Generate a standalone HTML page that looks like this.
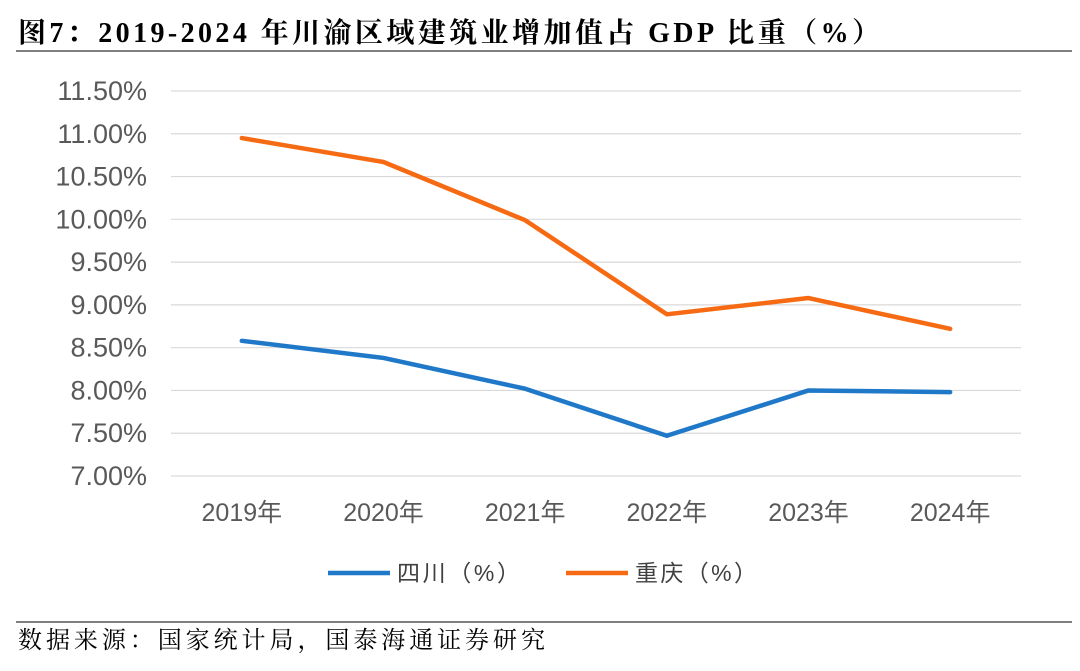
<!DOCTYPE html>
<html><head><meta charset="utf-8"><style>
body{margin:0;background:#fff;width:1080px;height:666px;overflow:hidden}
svg text{font-family:"Liberation Sans","Noto Sans CJK SC",sans-serif}
</style></head><body>
<svg id="c" width="1080" height="666" xmlns="http://www.w3.org/2000/svg">
<text x="18" y="42" font-size="28" font-weight="bold" fill="#000" textLength="862" lengthAdjust="spacing" style="font-family:'Liberation Serif','Noto Serif CJK SC',serif">图7：2019-2024 年川渝区域建筑业增加值占 GDP 比重（%）</text>
<line x1="16" y1="51" x2="1072" y2="51" stroke="#555" stroke-width="1.5"/>
<g id="grid"></g><g id="ylab"></g><g id="xlab"></g><g id="lines"></g>
<g>
<line x1="328" y1="573" x2="390" y2="573" stroke="#1f78c8" stroke-width="4.5"/>
<text x="397" y="581" font-size="23" fill="#404040" textLength="123" lengthAdjust="spacing">四川（%）</text>
<line x1="566" y1="573" x2="628" y2="573" stroke="#f56a12" stroke-width="4.5"/>
<text x="635" y="581" font-size="23" fill="#404040" textLength="122" lengthAdjust="spacing">重庆（%）</text>
</g>
<line x1="16" y1="622" x2="1072" y2="622" stroke="#555" stroke-width="1.5"/>
<text x="18" y="648" font-size="24" fill="#000" textLength="527" lengthAdjust="spacing" style="font-family:'Liberation Serif','Noto Serif CJK SC',serif">数据来源：国家统计局，国泰海通证券研究</text>
</svg>
<script>
const categories=["2019年","2020年","2021年","2022年","2023年","2024年"];
const sichuan=[8.58,8.38,8.02,7.47,8.00,7.98];
const chongqing=[10.95,10.67,9.99,8.89,9.08,8.72];
const yTicks=[7.0,7.5,8.0,8.5,9.0,9.5,10.0,10.5,11.0,11.5];
const NS="http://www.w3.org/2000/svg";
const L=171,R=1021,T=91,B=476,yMin=7,yMax=11.5;
const x=i=>L+(R-L)/categories.length*(i+0.5);
const y=v=>B-(v-yMin)/(yMax-yMin)*(B-T);
function mk(t,a,p){const e=document.createElementNS(NS,t);for(const k in a)e.setAttribute(k,a[k]);document.getElementById(p).appendChild(e);return e;}
yTicks.forEach(v=>{
 const g=mk('line',{x1:L,x2:R,y1:y(v),y2:y(v),stroke:'#d9d9d9','stroke-width':1.2},'grid');
 
 
 const t=mk('text',{x:147,y:y(v)+9,'font-size':27,fill:'#595959','text-anchor':'end'},'ylab');
 t.textContent=v.toFixed(2)+'%';
 
 
});
categories.forEach((c,i)=>{
 const t=mk('text',{x:x(i),y:521,'font-size':25,fill:'#595959','text-anchor':'middle'},'xlab');
 t.textContent=c;
 
 
});
[[sichuan,'#1f78c8','sichuan-line'],[chongqing,'#f56a12','chongqing-line']].forEach(([d,col,n])=>{
 const p=mk('polyline',{points:d.map((v,i)=>x(i)+','+y(v)).join(' '),fill:'none',stroke:col,'stroke-width':4.5,'stroke-linejoin':'round','stroke-linecap':'round'},'lines');
 
 
});
</script>
</body></html>
